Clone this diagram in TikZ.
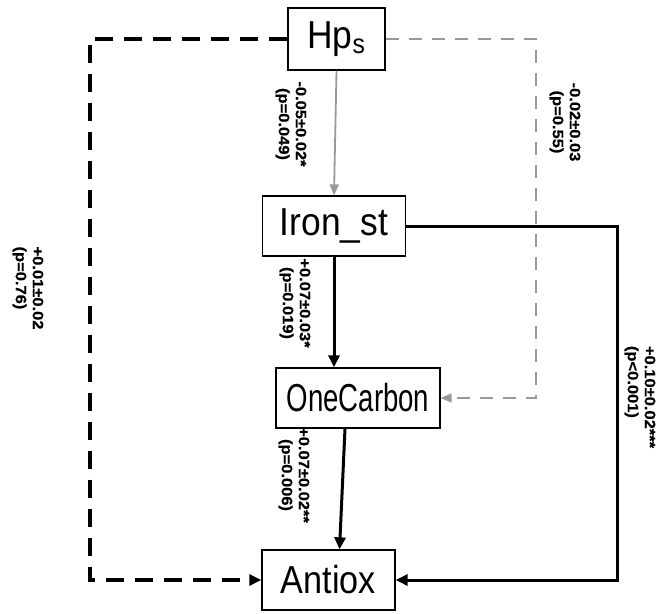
\documentclass[tikz,border=0pt]{standalone}
\usepackage{fontspec}
\usepackage{graphicx}
\setmainfont{Liberation Sans}
\newfontfamily\lblfont[FakeStretch=1.1,FakeBold=0.6]{Liberation Sans Bold}
\usetikzlibrary{arrows.meta}
\begin{document}
\begin{tikzpicture}[x=1pt,y=-1pt,
  box/.style={draw, line width=1.3pt, inner sep=0pt, font=\fontsize{30}{32}\selectfont},
  lbl/.style={rotate=-90, font=\lblfont\fontsize{15}{17}\selectfont, inner sep=0pt},
  blk/.style={line width=3pt, -{Triangle[length=12pt,width=11pt]}},
  gry/.style={draw=gray!80, line width=1.8pt, -{Triangle[length=11pt,width=9pt]}},
  bdash/.style={line width=3.2pt, dash pattern=on 18pt off 11pt, -{Triangle[length=12pt,width=11pt]}},
  gdash/.style={draw=gray!80, line width=1.8pt, dash pattern=on 13pt off 10pt, -{Triangle[length=11pt,width=9pt]}}]
\useasboundingbox (0,0) rectangle (658,613);
\node[box, minimum width=97pt, minimum height=62pt] (hp) at (336.5,39) {\scalebox{1.18}[1.3]{Hp\textsubscript{s}}};
\node[box, minimum width=143pt, minimum height=60pt] (ir) at (334,226) {\scalebox{1.18}[1.3]{Iron\_st}};
\node[box, minimum width=164pt, minimum height=60pt] (oc) at (358,398) {\scalebox{0.92}[1.3]{OneCarbon}};
\node[box, minimum width=133pt, minimum height=60pt] (an) at (328.5,580) {\scalebox{1.14}[1.3]{Antiox}};
\coordinate (l1) at (90,39);
\coordinate (l2) at (90,580);
\coordinate (r1) at (536,39);
\coordinate (r2) at (536,398);
\coordinate (b1) at (617,226);
\coordinate (b2) at (617,580);
\draw[bdash] (hp.west) -- (l1) -- (l2) -- (an.west);
\draw[gdash] (hp.east) -- (r1) -- (r2) -- (oc.east);
\draw[gry] (hp.south) -- (ir.north);
\draw[blk] (ir.south) -- (ir.south |- oc.north);
\draw[blk] ([xshift=-13pt]oc.south) -- ([xshift=11pt]an.north);
\draw[blk] (ir.east) -- (b1) -- (b2) -- (an.east);
\node[lbl, align=center] (t1) at (291,124) {-0.05±0.02*\\(p=0.049)};
\node[lbl, align=center] (t2) at (565,122) {-0.02±0.03\\(p=0.55)};
\node[lbl, align=left] (t3) at (28,288) {+0.01±0.02\\(p=0.76)};
\node[lbl, align=left] (t4) at (640,397) {+0.10±0.02***\\(p<0.001)};
\node[lbl, align=center] (t5) at (295,303) {+0.07±0.03*\\(p=0.019)};
\node[lbl, align=center] (t6) at (294,475) {+0.07±0.02**\\(p=0.006)};
\end{tikzpicture}
\end{document}
